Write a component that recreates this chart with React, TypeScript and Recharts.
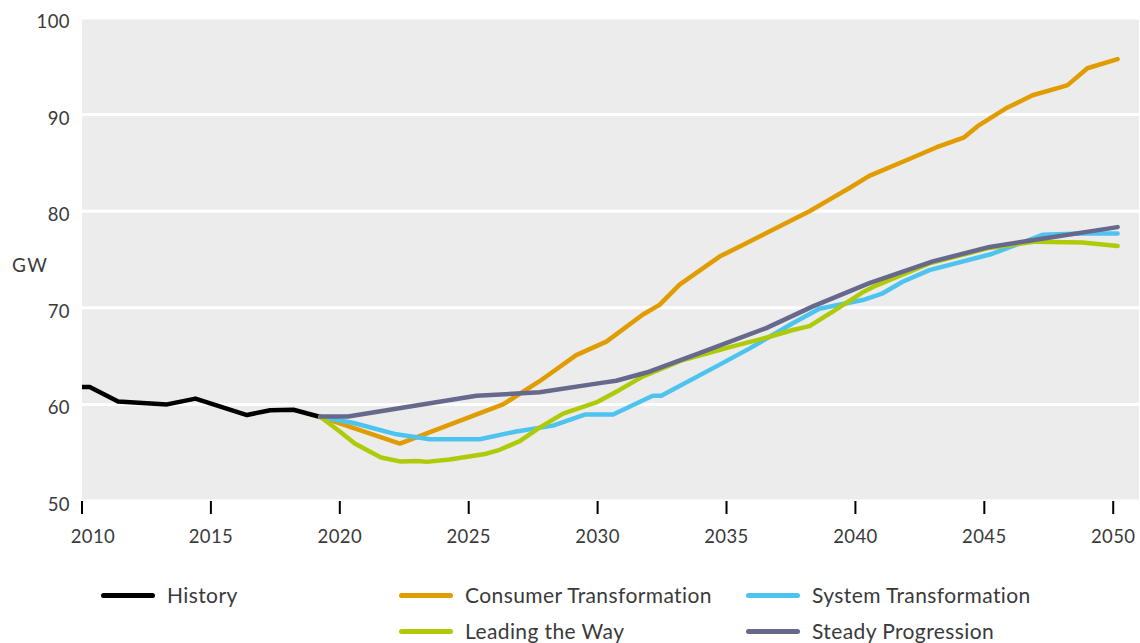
import { LineChart, Line, XAxis, YAxis, CartesianGrid } from 'recharts';

// [year, GW] pairs
const history: [number, number][] = [
    [2010, 61.8], [2010.3, 61.8], [2011.4, 60.3], [2013.3, 60.0], [2014.4, 60.6],
    [2016.4, 58.9], [2017.3, 59.4], [2018.2, 59.45], [2019.25, 58.7],
];

const consumerTransformation: [number, number][] = [
    [2019.25, 58.7], [2022.33, 55.95], [2026.33, 60.0], [2027.75, 62.4], [2029.17, 65.1],
    [2030.34, 66.5], [2031.76, 69.3], [2032.4, 70.3], [2033.18, 72.4], [2034.73, 75.3],
    [2035.63, 76.5], [2036.93, 78.25], [2038.22, 80.0], [2038.99, 81.2], [2039.77, 82.4],
    [2040.54, 83.65], [2042.09, 85.4], [2043.13, 86.6], [2044.22, 87.65], [2044.74, 88.8],
    [2045.84, 90.65], [2046.87, 92.0], [2047.91, 92.8], [2048.23, 93.05], [2049.0, 94.8],
    [2050.17, 95.75],
];

const systemTransformation: [number, number][] = [
    [2019.25, 58.7], [2020.5, 58.1], [2022.2, 56.9], [2023.5, 56.4], [2025.43, 56.4],
    [2026.85, 57.2], [2028.27, 57.8], [2029.5, 58.95], [2030.6, 58.95], [2032.14, 60.9],
    [2032.47, 60.9], [2034.86, 64.3], [2035.9, 65.8], [2037.57, 68.4], [2038.6, 69.9],
    [2040.28, 70.8], [2041.06, 71.5], [2041.83, 72.7], [2042.87, 73.9], [2045.32, 75.6],
    [2047.26, 77.55], [2048.81, 77.7], [2050.17, 77.7],
];

const leadingTheWay: [number, number][] = [
    [2019.25, 58.7], [2020.0, 57.2], [2020.58, 55.95], [2021.03, 55.3], [2021.6, 54.5],
    [2022.33, 54.1], [2023.03, 54.15], [2023.36, 54.05], [2024.26, 54.3], [2025.69, 54.9],
    [2026.2, 55.3], [2026.98, 56.2], [2027.75, 57.6], [2028.66, 59.05], [2029.95, 60.2],
    [2030.85, 61.5], [2031.76, 62.9], [2033.31, 64.6], [2035.24, 66.0], [2036.67, 67.0],
    [2037.57, 67.7], [2038.22, 68.1], [2039.12, 69.6], [2040.28, 71.6], [2040.8, 72.3],
    [2042.87, 74.6], [2045.19, 76.2], [2047.0, 76.85], [2048.81, 76.75], [2050.17, 76.4],
];

const steadyProgression: [number, number][] = [
    [2019.25, 58.75], [2020.32, 58.75], [2025.3, 60.9], [2027.75, 61.25], [2030.08, 62.2],
    [2030.72, 62.45], [2031.9, 63.3], [2033.95, 65.3], [2036.54, 67.9], [2038.35, 70.15],
    [2040.54, 72.55], [2043.0, 74.8], [2045.2, 76.3], [2046.74, 76.95], [2050.17, 78.35],
];

const xTicks = [2010, 2015, 2020, 2025, 2030, 2035, 2040, 2045, 2050];
const yTicks = [50, 60, 70, 80, 90, 100];

const FONT = 'Lato, "Open Sans", sans-serif';
const TEXT = '#3a3a3a';

const SERIES = [
    { name: 'History', points: history, color: '#000000' },
    { name: 'Consumer Transformation', points: consumerTransformation, color: '#e19c00' },
    { name: 'System Transformation', points: systemTransformation, color: '#4dc4f0' },
    { name: 'Leading the Way', points: leadingTheWay, color: '#afcb08' },
    { name: 'Steady Progression', points: steadyProgression, color: '#67698c' },
];

const toRows = (pts: [number, number][]) => pts.map(([x, v]) => ({ x, v }));

function XTick({ x, y, payload }: any) {
    const shift = payload.value === 2010 ? 11 : 0;
    return (
        <text x={x + shift} y={y + 29} textAnchor="middle" fill={TEXT} fontSize={18.5} fontFamily={FONT} letterSpacing={0.4}>
            {payload.value}
        </text>
    );
}

function YTick({ x, y, payload }: any) {
    return (
        <text x={x} y={y + 10} textAnchor="end" fill={TEXT} fontSize={18.5} fontFamily={FONT} letterSpacing={0.4}>
            {payload.value}
        </text>
    );
}

function LegendItem({ name, color, left, top }: { name: string; color: string; left: number; top: number }) {
    return (
        <div style={{ position: 'absolute', left, top, display: 'flex', alignItems: 'center', height: 24 }}>
            <div style={{ width: 54, height: 5, borderRadius: 3, background: color }} />
            <span style={{ marginLeft: 12, fontSize: 21, fontFamily: FONT, color: TEXT, whiteSpace: 'nowrap', letterSpacing: 0.4, lineHeight: '24px' }}>
                {name}
            </span>
        </div>
    );
}

export default function App() {
    const legendPos = [
        { left: 101, top: 583 },
        { left: 399, top: 583 },
        { left: 746, top: 583 },
        { left: 399, top: 619 },
        { left: 746, top: 619 },
    ];
    return (
        <div style={{ position: 'absolute', left: 0, top: 0, width: 1140, height: 643, overflow: 'hidden', background: '#fff' }}>
            <LineChart width={1140} height={560} margin={{ top: 18, right: 1, left: 0, bottom: 9 }}>
                <CartesianGrid fill="#ececec" stroke="#ffffff" strokeWidth={3} vertical={false} />
                <XAxis
                    type="number"
                    dataKey="x"
                    domain={[2010, 2051]}
                    ticks={xTicks}
                    height={50}
                    axisLine={false}
                    tickSize={13}
                    tickLine={{ stroke: '#000', strokeWidth: 2 }}
                    tickMargin={0}
                    tick={<XTick />}
                    allowDataOverflow
                />
                <YAxis
                    type="number"
                    domain={[50, 100]}
                    ticks={yTicks}
                    width={82}
                    axisLine={false}
                    tickLine={false}
                    tickMargin={6}
                    tick={<YTick />}
                />
                {SERIES.map((s) => (
                    <Line
                        key={s.name}
                        data={toRows(s.points)}
                        dataKey="v"
                        type="linear"
                        stroke={s.color}
                        strokeWidth={4.5}
                        strokeLinecap="round"
                        strokeLinejoin="round"
                        dot={false}
                        isAnimationActive={false}
                    />
                ))}
            </LineChart>
            <div style={{ position: 'absolute', left: 12, top: 253, fontSize: 19, fontFamily: FONT, color: TEXT, letterSpacing: 1.5 }}>
                GW
            </div>
            {SERIES.map((s, i) => (
                <LegendItem key={s.name} name={s.name} color={s.color} left={legendPos[i].left} top={legendPos[i].top} />
            ))}
        </div>
    );
}
